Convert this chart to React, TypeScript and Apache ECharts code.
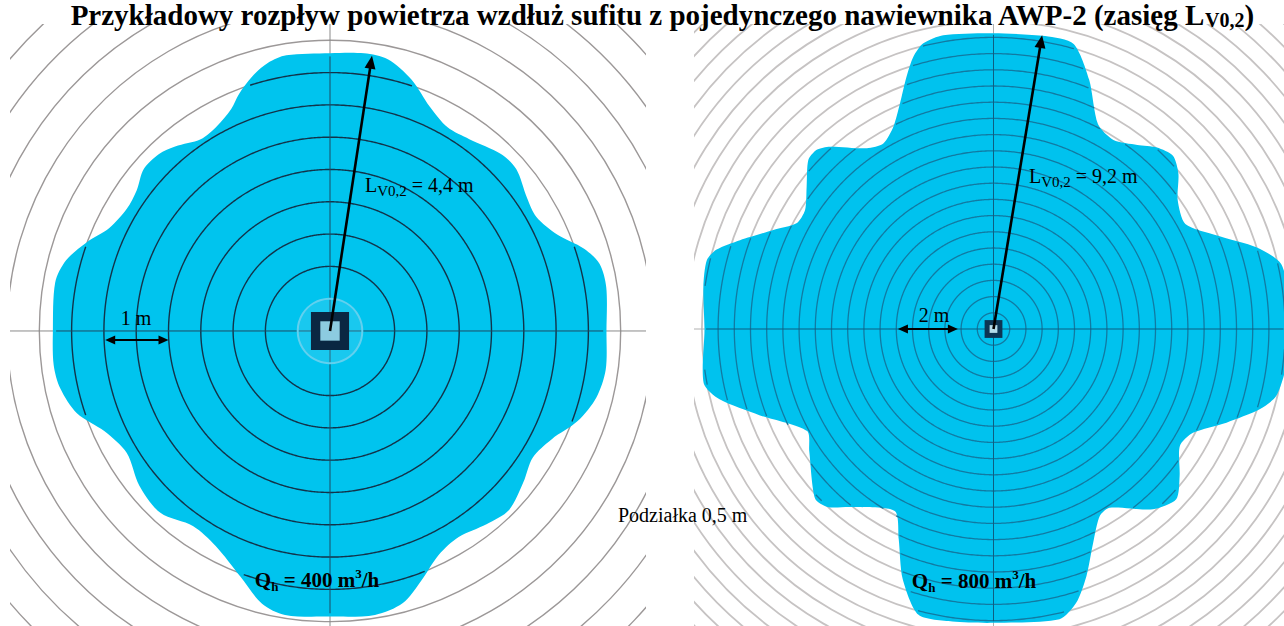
import React, { useEffect, useRef } from "react";
import * as echarts from "echarts";

const SERIF = "'Liberation Serif', 'Times New Roman', serif";

// ---------- data (metres) ----------
const TITLE_MAIN = "Przykładowy rozpływ powietrza wzdłuż sufitu z pojedynczego nawiewnika AWP-2 (zasięg L";
const TITLE_SUB = "V0,2";

// outline of the airflow zone: [angle in degrees (0 = right, CCW), radius in m]
const leftOutline: [number, number][] = [
  [0, 4.28], [9, 4.33], [14, 4.3], [18, 4.13], [23, 3.82], [29, 3.65], [34, 3.68], [41, 3.82],
  [46, 3.81], [54, 3.67], [60, 3.64], [66, 3.8], [72, 4.09], [78, 4.3], [83, 4.33], [90, 4.3],
  [99, 4.32], [103, 4.26], [107, 4.12], [111, 3.93], [114, 3.76], [119, 3.62], [124, 3.58], [130, 3.73],
  [134, 3.81], [139, 3.82], [144, 3.7], [149, 3.67], [155, 3.77], [160, 4.01], [165, 4.23], [170, 4.32],
  [180, 4.29], [187, 4.31], [192, 4.27], [198, 4.12], [204, 3.82], [211, 3.67], [219, 3.8], [227, 3.85],
  [235, 3.69], [242, 3.77], [250, 4.05], [256, 4.35], [261, 4.45], [270, 4.42], [279, 4.45], [285, 4.36],
  [290, 4.12], [296, 3.85], [302, 3.76], [309, 3.85], [315, 3.92], [322, 3.8], [328, 3.7], [334, 3.82],
  [340, 4.08], [346, 4.25], [352, 4.31],
];

const rightOutline: [number, number][] = [
  [0, 9.0], [6, 9.15], [12.8, 9.1], [17.2, 8.51], [22.7, 7.48], [28.7, 6.75], [35, 6.94], [40, 7.45],
  [44, 7.7], [48, 7.54], [52, 7.21], [57.6, 6.91], [63, 7.1], [69, 8.24], [74.3, 9.14], [80, 9.18],
  [90, 9.13], [99.7, 9.2], [103.8, 9.08], [106.4, 8.76], [109, 8.24], [112.5, 7.54], [116.3, 6.97], [120.7, 6.66],
  [125, 6.81], [131.9, 7.56], [134.6, 7.77], [137.6, 7.74], [142.7, 7.25], [147.7, 6.88], [151.8, 6.9], [155.8, 7.45],
  [160.7, 8.29], [164, 8.89], [166.5, 9.1], [171.7, 9.05], [180, 8.92], [190.6, 9.1], [194.4, 8.73], [200.2, 7.7],
  [208.7, 6.56], [213.5, 6.82], [223.6, 7.6], [227, 7.51], [231.3, 7.04], [241.5, 6.39], [245.7, 7.11], [250, 8.2],
  [255.3, 9.12], [262, 9.12], [270, 9.07], [282.8, 9.19], [286.8, 8.83], [290.6, 8.15], [295, 7.28], [299.6, 6.64],
  [303, 6.58], [311.5, 7.43], [317, 7.71], [321.7, 7.32], [327.9, 6.79], [332.5, 6.94], [338.1, 7.75], [343.2, 8.58],
  [346.7, 8.97], [353, 9.1],
];

// grid circles every 0.5 m
const leftRings = [1, 1.5, 2, 2.5, 3, 3.5, 4, 4.5, 5, 5.5, 6, 6.5, 7];
const rightRings = [0.5, 1, 1.5, 2, 2.5, 3, 3.5, 4, 4.5, 5, 5.5, 6, 6.5, 7, 7.5, 8, 8.5, 9, 9.5, 10, 10.5, 11, 11.5, 12, 12.5, 13, 13.5];
const leftHaloRing = [0.5];

// throw arrow end points [x, y] in m
const leftThrowTip: [number, number] = [0.65, 4.26];
const rightThrowTip: [number, number] = [1.5, 9.07];
// scale bars [xStart, xEnd, y] in m
const leftScaleBar = [-3.48, -2.5, -0.14];
const rightScaleBar = [-2.95, -1.1, 0.0];
// diffuser square sides [outer, inner] in m
const leftDiffuser = [0.59, 0.3];
const rightDiffuser = [0.55, 0.24];

const leftLabelThrow = "4,4 m";
const rightLabelThrow = "9,2 m";
const leftFlow = "400";
const rightFlow = "800";

// ---------- helpers ----------
function outlineRadius(outline: [number, number][], deg: number): number {
  const a = ((deg % 360) + 360) % 360;
  const n = outline.length;
  for (let i = 0; i < n; i++) {
    const [a0, r0] = outline[i];
    const [a1raw, r1] = outline[(i + 1) % n];
    const a1 = i === n - 1 ? a1raw + 360 : a1raw;
    if (a >= a0 && a <= a1) return r0 + ((r1 - r0) * (a - a0)) / (a1 - a0);
  }
  return outline[0][1];
}

function head(tip: number[], from: number[], len: number, half: number) {
  const dx = tip[0] - from[0];
  const dy = tip[1] - from[1];
  const l = Math.hypot(dx, dy) || 1;
  const ux = dx / l, uy = dy / l;
  const bx = tip[0] - ux * len, by = tip[1] - uy * len;
  return [
    [tip[0], tip[1]],
    [bx - uy * half, by + ux * half],
    [bx + uy * half, by - ux * half],
  ];
}

function panelSeries(idx: number, outline: [number, number][], rings: number[], cfg: any) {
  const ax = { xAxisIndex: idx, yAxisIndex: idx, coordinateSystem: "cartesian2d", clip: true, silent: true };
  const series: any[] = [];
  // grey rings over whole panel
  series.push({
    ...ax, type: "custom", z: 1,
    data: rings.map((r) => [r, 0]),
    renderItem: (_p: any, api: any) => {
      const r = api.value(0);
      const c = api.coord([0, 0]);
      const rp = api.size([r, 0])[0];
      return { type: "circle", shape: { cx: c[0], cy: c[1], r: rp }, style: { fill: "none", stroke: cfg.greyRing, lineWidth: cfg.greyWidth } };
    },
  });
  // grey axes
  series.push({
    ...ax, type: "custom", z: 2,
    data: [[0, 0]],
    renderItem: (_p: any, api: any) => {
      const a = api.coord([-50, 0]), b = api.coord([50, 0]);
      const c = api.coord([0, -50]), d = api.coord([0, 50]);
      return {
        type: "group",
        children: [
          { type: "line", shape: { x1: a[0], y1: a[1], x2: b[0], y2: b[1] }, style: { stroke: cfg.greyAxis, lineWidth: 1 } },
          { type: "line", shape: { x1: c[0], y1: c[1], x2: d[0], y2: d[1] }, style: { stroke: cfg.greyAxis, lineWidth: 1 } },
        ],
      };
    },
  });
  // blue zone
  series.push({
    ...ax, type: "custom", z: 3,
    data: [[0, 0]],
    renderItem: (_p: any, api: any) => {
      const pts = outline.map(([deg, r]) => {
        const t = (deg * Math.PI) / 180;
        return api.coord([r * Math.cos(t), r * Math.sin(t)]);
      });
      return { type: "polygon", shape: { points: pts, smooth: cfg.smooth }, style: { fill: cfg.blue } };
    },
  });
  // dark rings inside zone
  series.push({
    ...ax, type: "custom", z: 4,
    data: rings.map((r) => [r, 0]),
    renderItem: (_p: any, api: any) => {
      const r = api.value(0);
      const segs: number[][][] = [];
      let cur: number[][] | null = null;
      for (let deg = 0; deg <= 360; deg += 0.5) {
        const inside = r < outlineRadius(outline, deg) - 0.05;
        if (inside) {
          const t = (deg * Math.PI) / 180;
          if (!cur) { cur = []; segs.push(cur); }
          cur.push(api.coord([r * Math.cos(t), r * Math.sin(t)]));
        } else cur = null;
      }
      return {
        type: "group",
        children: segs.filter((s) => s.length > 1).map((s) => ({
          type: "polyline", shape: { points: s }, style: { fill: "none", stroke: cfg.darkRing, lineWidth: cfg.darkWidth },
        })),
      };
    },
  });
  // dark axes inside zone
  series.push({
    ...ax, type: "custom", z: 5,
    data: [[0, 0]],
    renderItem: (_p: any, api: any) => {
      const a = api.coord([-outlineRadius(outline, 180) + 0.05, 0]);
      const b = api.coord([outlineRadius(outline, 0) - 0.05, 0]);
      const c = api.coord([0, -outlineRadius(outline, 270) + 0.05]);
      const d = api.coord([0, outlineRadius(outline, 90) - 0.05]);
      return {
        type: "group",
        children: [
          { type: "line", shape: { x1: a[0], y1: a[1], x2: b[0], y2: b[1] }, style: { stroke: cfg.darkAxis, lineWidth: 1 } },
          { type: "line", shape: { x1: c[0], y1: c[1], x2: d[0], y2: d[1] }, style: { stroke: cfg.darkAxis, lineWidth: 1 } },
        ],
      };
    },
  });
  // halo ring
  if (cfg.halo) {
    series.push({
      ...ax, type: "custom", z: 6,
      data: cfg.halo.map((r: number) => [r, 0]),
      renderItem: (_p: any, api: any) => {
        const c = api.coord([0, 0]);
        const rp = api.size([api.value(0), 0])[0];
        return { type: "circle", shape: { cx: c[0], cy: c[1], r: rp }, style: { fill: "rgba(140,220,245,0.18)", stroke: "#62d0ee", lineWidth: 2 } };
      },
    });
  }
  // diffuser, throw arrow, scale bar
  series.push({
    ...ax, type: "custom", z: 7,
    data: [[0, 0]],
    renderItem: (_p: any, api: any) => {
      const [so, si] = cfg.diffuser;
      const o1 = api.coord([-so / 2, so / 2]);
      const os = api.size([so, so]);
      const i1 = api.coord([-si / 2, si / 2]);
      const is = api.size([si, si]);
      const c0 = api.coord([0, 0]);
      const tip = api.coord(cfg.tip);
      const sb = cfg.scaleBar;
      const s0 = api.coord([sb[0], sb[2]]);
      const s1 = api.coord([sb[1], sb[2]]);
      const tipBase = head(tip, c0, 13, 5.5);
      const len = Math.hypot(tip[0] - c0[0], tip[1] - c0[1]);
      const shaftEnd = [tip[0] - ((tip[0] - c0[0]) * 10) / len, tip[1] - ((tip[1] - c0[1]) * 10) / len];
      return {
        type: "group",
        children: [
          { type: "rect", shape: { x: o1[0], y: o1[1], width: os[0], height: os[1] }, style: { fill: cfg.diffOuter } },
          { type: "rect", shape: { x: i1[0], y: i1[1], width: is[0], height: is[1] }, style: { fill: cfg.diffInner } },
          { type: "line", shape: { x1: c0[0], y1: c0[1], x2: shaftEnd[0], y2: shaftEnd[1] }, style: { stroke: "#000", lineWidth: 2.6 } },
          { type: "polygon", shape: { points: tipBase }, style: { fill: "#000" } },
          { type: "line", shape: { x1: s0[0] + 6, y1: s0[1], x2: s1[0] - 6, y2: s1[1] }, style: { stroke: "#000", lineWidth: 1.8 } },
          { type: "polygon", shape: { points: head(s0, s1, 10, 4.5) }, style: { fill: "#000" } },
          { type: "polygon", shape: { points: head(s1, s0, 10, 4.5) }, style: { fill: "#000" } },
        ],
      };
    },
  });
  return series;
}

const labelRich = {
  a: { fontFamily: SERIF, fontSize: 20, color: "#000", lineHeight: 26 },
  s: { fontFamily: SERIF, fontSize: 15, color: "#000", lineHeight: 26, verticalAlign: "bottom" },
};
const flowRich = {
  b: { fontFamily: SERIF, fontSize: 21, fontWeight: "bold", color: "#000", lineHeight: 26 },
  sub: { fontFamily: SERIF, fontSize: 13, fontWeight: "bold", color: "#000", lineHeight: 26, verticalAlign: "bottom" },
  sup: { fontFamily: SERIF, fontSize: 13, fontWeight: "bold", color: "#000", lineHeight: 26, verticalAlign: "top" },
};

export default function App() {
  const ref = useRef<HTMLDivElement>(null);
  useEffect(() => {
    if (!ref.current) return;
    const chart = echarts.init(ref.current, undefined, { renderer: "svg" });
    const leftCfg = {
      greyRing: "#9c9898", greyWidth: 1.4, greyAxis: "#8a8a8a", blue: "#00c4ee", smooth: 0.3,
      darkRing: "#12334a", darkWidth: 1.4, darkAxis: "#1d4a63", halo: leftHaloRing,
      diffuser: leftDiffuser, diffOuter: "#0a2742", diffInner: "#8ccbe0", tip: leftThrowTip, scaleBar: leftScaleBar,
    };
    const rightCfg = {
      greyRing: "#c6c3c3", greyWidth: 1.8, greyAxis: "#b0b0b0", blue: "#00c2ee", smooth: 0.25,
      darkRing: "#117aa2", darkWidth: 1.3, darkAxis: "#0d5f82", halo: null,
      diffuser: rightDiffuser, diffOuter: "#0d3554", diffInner: "#b5dcea", tip: rightThrowTip, scaleBar: rightScaleBar,
    };
    const option: any = {
      animation: false,
      backgroundColor: "#ffffff",
      grid: [
        { left: 10, top: 24, width: 636, height: 602 },
        { left: 694, top: 24, width: 590, height: 602 },
      ],
      xAxis: [
        { gridIndex: 0, type: "value", min: -4.954, max: 4.892, show: false },
        { gridIndex: 1, type: "value", min: -9.244, max: 8.966, show: false },
      ],
      yAxis: [
        { gridIndex: 0, type: "value", min: -4.567, max: 4.752, show: false },
        { gridIndex: 1, type: "value", min: -9.167, max: 9.414, show: false },
      ],
      series: [...panelSeries(0, leftOutline, leftRings, leftCfg), ...panelSeries(1, rightOutline, rightRings, rightCfg)],
      graphic: [
        {
          type: "text", x: 662, y: 15, z: 100,
          style: {
            text: `{t|${TITLE_MAIN}}{s|${TITLE_SUB}}{t|)}`,
            textAlign: "center", textVerticalAlign: "middle",
            rich: {
              t: { fontFamily: SERIF, fontSize: 29, fontWeight: "bold", color: "#000", lineHeight: 30 },
              s: { fontFamily: SERIF, fontSize: 20, fontWeight: "bold", color: "#000", lineHeight: 30, verticalAlign: "bottom" },
            },
          },
        },
        {
          type: "text", x: 365, y: 185, z: 100,
          style: { text: `{a|L}{s|V0,2}{a| = ${leftLabelThrow}}`, textAlign: "left", textVerticalAlign: "middle", rich: labelRich },
        },
        {
          type: "text", x: 1029, y: 176, z: 100,
          style: { text: `{a|L}{s|V0,2}{a| = ${rightLabelThrow}}`, textAlign: "left", textVerticalAlign: "middle", rich: labelRich },
        },
        {
          type: "text", x: 136, y: 318, z: 100,
          style: { text: "1 m", font: `20px ${SERIF}`, fill: "#000", textAlign: "center", textVerticalAlign: "middle" },
        },
        {
          type: "text", x: 934, y: 315, z: 100,
          style: { text: "2 m", font: `20px ${SERIF}`, fill: "#000", textAlign: "center", textVerticalAlign: "middle" },
        },
        {
          type: "text", x: 618, y: 515, z: 100,
          style: { text: "Podziałka 0,5 m", font: `20px ${SERIF}`, fill: "#000", textAlign: "left", textVerticalAlign: "middle" },
        },
        {
          type: "text", x: 317, y: 580, z: 100,
          style: { text: `{b|Q}{sub|h}{b| = ${leftFlow} m}{sup|3}{b|/h}`, textAlign: "center", textVerticalAlign: "middle", rich: flowRich },
        },
        {
          type: "text", x: 974, y: 581, z: 100,
          style: { text: `{b|Q}{sub|h}{b| = ${rightFlow} m}{sup|3}{b|/h}`, textAlign: "center", textVerticalAlign: "middle", rich: flowRich },
        },
      ],
    };
    chart.setOption(option);
    return () => chart.dispose();
  }, []);
  return <div ref={ref} style={{ position: "fixed", left: 0, top: 0, width: 1284, height: 626, background: "#fff" }} />;
}
